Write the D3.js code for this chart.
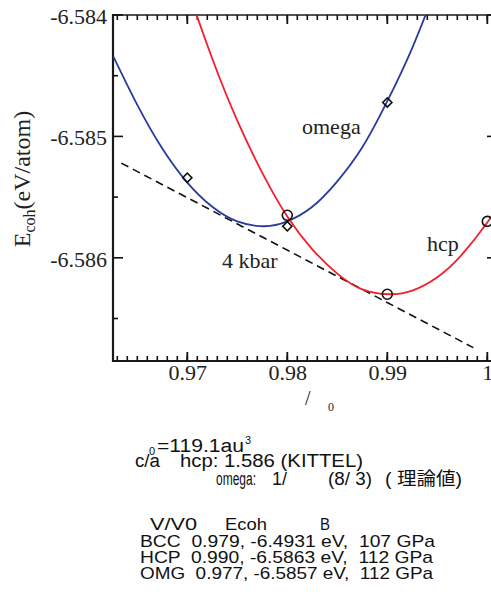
<!DOCTYPE html>
<html>
<head>
<meta charset="utf-8">
<script src="https://cdn.jsdelivr.net/npm/d3@7"></script>
<style>
  body { margin: 0; background: #fff; }
  svg { display: block; }
  .serif { font-family: "Liberation Serif", "Times New Roman", serif; fill: #222; }
  .sans { font-family: "Liberation Sans", Arial, "Noto Sans CJK JP", sans-serif; fill: #111; }
</style>
</head>
<body>
<svg id="chart" width="491" height="596"></svg>
<script>
// Omega phase: fitted E(V) curve samples and computed points
const omegaCurveX = [0.9626, 0.965, 0.9675, 0.97, 0.9725, 0.975, 0.9777, 0.98, 0.9825, 0.985, 0.9875, 0.99, 0.9925, 0.995];
const omegaCurveE = [-6.58434, -6.58474, -6.58510, -6.58538, -6.58558, -6.58570, -6.58574, -6.58570, -6.58558, -6.58537, -6.58509, -6.58471, -6.58427, -6.58375];
const omegaPtsX = [0.97, 0.98, 0.99];
const omegaPtsE = [-6.58534, -6.58574, -6.58472];

// HCP phase: fitted E(V) curve samples and computed points
const hcpCurveX = [0.97, 0.9725, 0.975, 0.9775, 0.98, 0.9825, 0.985, 0.9875, 0.9902, 0.9925, 0.995, 0.9975, 1.0, 1.001];
const hcpCurveE = [-6.58378, -6.58436, -6.58487, -6.58530, -6.58566, -6.58593, -6.58613, -6.58626, -6.58630, -6.58627, -6.58616, -6.58597, -6.58571, -6.58558];
const hcpPtsX = [0.98, 0.99, 1.0];
const hcpPtsE = [-6.58565, -6.58630, -6.58570];

// Common tangent (4 kbar transition pressure)
const tangentX = [0.9634, 0.9986];
const tangentE = [-6.58522, -6.58674];

// Axis ticks
const xTicks = [0.97, 0.98, 0.99, 1.0];
const xTickLabels = ["0.97", "0.98", "0.99", "1"];
const yTicks = [-6.584, -6.585, -6.586];
const yTickLabels = ["-6.584", "-6.585", "-6.586"];

// Summary table
const phases = ["BCC", "HCP", "OMG"];
const volRatio = [0.979, 0.990, 0.977];
const ecohMin = [-6.4931, -6.5863, -6.5857];
const bulkMod = [107, 112, 112];

const svg = d3.select("#chart");
const box = { left: 113, top: 15, right: 497, bottom: 361 };

const xs = d3.scaleLinear().domain([0.96257, 1.00097]).range([box.left, box.right]);
const ys = d3.scaleLinear().domain([-6.58685, -6.584]).range([box.bottom, box.top]);

const xMinor = d3.range(963, 1001).map(v => v / 1000);
const yMinor = [-6.5845, -6.5855, -6.5865];

svg.append("defs").append("clipPath").attr("id", "plotClip")
  .append("rect")
  .attr("x", box.left).attr("y", box.top)
  .attr("width", box.right - box.left).attr("height", box.bottom - box.top);

// tick labels through d3 axes
svg.append("g").attr("transform", `translate(0,${box.bottom})`)
  .call(d3.axisBottom(xs).tickValues(xTicks).tickSize(0).tickPadding(3)
    .tickFormat((d, i) => xTickLabels[i]))
  .call(g => g.select(".domain").remove())
  .call(g => g.selectAll(".tick text").attr("class", "serif")
    .attr("font-size", 22).attr("fill", "#222"));
svg.append("g").attr("transform", `translate(${box.left},0)`)
  .call(d3.axisLeft(ys).tickValues(yTicks).tickSize(0).tickPadding(6)
    .tickFormat((d, i) => yTickLabels[i]))
  .call(g => g.select(".domain").remove())
  .call(g => g.selectAll(".tick text").attr("class", "serif")
    .attr("font-size", 22).attr("fill", "#222").attr("dy", "0.38em"));

// frame
const frame = svg.append("g").attr("stroke", "#1a1a1a").attr("fill", "none");
frame.append("line").attr("x1", box.left).attr("x2", box.left)
  .attr("y1", box.top - 1).attr("y2", box.bottom + 1).attr("stroke-width", 2.2);
frame.append("line").attr("x1", box.left).attr("x2", box.right)
  .attr("y1", box.top).attr("y2", box.top).attr("stroke-width", 1.6);
frame.append("line").attr("x1", box.left).attr("x2", box.right)
  .attr("y1", box.bottom).attr("y2", box.bottom).attr("stroke-width", 2);
frame.append("line").attr("x1", box.right).attr("x2", box.right)
  .attr("y1", box.top).attr("y2", box.bottom).attr("stroke-width", 2);

// inward tick marks drawn as thin filled bars
const tickG = svg.append("g").attr("fill", "#111");
function xTickBars(values, edge, len, w, down) {
  tickG.append("g").selectAll("rect").data(values).join("rect")
    .attr("x", d => xs(d) - w / 2).attr("width", w)
    .attr("y", down ? edge : edge - len).attr("height", len);
}
function yTickBars(values, edge, len, w, right) {
  tickG.append("g").selectAll("rect").data(values).join("rect")
    .attr("y", d => ys(d) - w / 2).attr("height", w)
    .attr("x", right ? edge : edge - len).attr("width", len);
}
xTickBars(xMinor, box.bottom, 5, 1.6, false);
xTickBars(xTicks, box.bottom, 9, 1.8, false);
xTickBars(xMinor, box.top, 5, 1.6, true);
xTickBars(xTicks, box.top, 9, 1.8, true);
yTickBars(yMinor, box.left, 5, 1.6, true);
yTickBars(yTicks, box.left, 10, 1.6, true);
yTickBars(yMinor, box.right, 5, 1.6, false);
yTickBars(yTicks, box.right, 10, 1.6, false);

const plot = svg.append("g").attr("clip-path", "url(#plotClip)");
const line = d3.line().x(d => xs(d[0])).y(d => ys(d[1])).curve(d3.curveNatural);

// common tangent
plot.append("path")
  .datum(d3.zip(tangentX, tangentE))
  .attr("d", d3.line().x(d => xs(d[0])).y(d => ys(d[1])))
  .attr("fill", "none").attr("stroke", "#111")
  .attr("stroke-width", 1.6).attr("stroke-dasharray", "8,5");

// fitted curves
plot.append("path")
  .datum(d3.zip(omegaCurveX, omegaCurveE))
  .attr("d", line).attr("fill", "none")
  .attr("stroke", "#2b3a9e").attr("stroke-width", 1.8);
plot.append("path")
  .datum(d3.zip(hcpCurveX, hcpCurveE))
  .attr("d", line).attr("fill", "none")
  .attr("stroke", "#f0202a").attr("stroke-width", 1.8);

// computed points
svg.append("g").selectAll("path")
  .data(d3.zip(omegaPtsX, omegaPtsE))
  .join("path")
  .attr("d", d3.symbol(d3.symbolSquare, 42))
  .attr("transform", d => `translate(${xs(d[0])},${ys(d[1])}) rotate(45)`)
  .attr("fill", "none").attr("stroke", "#111").attr("stroke-width", 1.6);
svg.append("g").selectAll("circle")
  .data(d3.zip(hcpPtsX, hcpPtsE))
  .join("circle")
  .attr("cx", d => xs(d[0])).attr("cy", d => ys(d[1])).attr("r", 5)
  .attr("fill", "none").attr("stroke", "#111").attr("stroke-width", 1.6);

// curve labels
const tag = (px, py, t) => svg.append("text").attr("class", "serif")
  .attr("x", px).attr("y", py).attr("font-size", 22).text(t);
tag(302, 134, "omega");
tag(427, 251, "hcp");
tag(222, 268, "4 kbar");

// axis titles
const yTitle = svg.append("text").attr("class", "serif")
  .attr("transform", "translate(30,179) rotate(-90)")
  .attr("text-anchor", "middle").attr("font-size", 24);
yTitle.append("tspan").text("E");
yTitle.append("tspan").attr("font-size", 16).attr("dy", 5).text("coh");
yTitle.append("tspan").attr("dy", -5).text("(eV/atom)");

svg.append("text").attr("class", "serif").attr("x", 305).attr("y", 405)
  .attr("font-size", 20).text("/");
svg.append("text").attr("class", "serif").attr("x", 328).attr("y", 411)
  .attr("font-size", 12).text("0");

// notes block
function note(px, py, t, len, size) {
  const el = svg.append("text").attr("class", "sans")
    .attr("x", px).attr("y", py).attr("font-size", size || 17)
    .attr("xml:space", "preserve").text(t);
  if (len) el.attr("textLength", len).attr("lengthAdjust", "spacingAndGlyphs");
  return el;
}
note(149, 455, "0", null, 11);
note(157, 452, "=119.1au", 87, 18);
note(245, 444, "3", null, 11);
note(135, 467, "c/a", 25, 18);
note(180, 467, "hcp: 1.586 (KITTEL)", 183, 18);
note(216, 485, "omega:", 40, 18);
note(272, 485, "1/", 15, 18);
note(328, 485, "(8/ 3)", 44, 18);
note(385, 485, "( 理論値)", 77, 18);

note(150, 530, "V/V0", 47);
note(225, 530, "Ecoh", 42);
note(320, 530, "B", 10);
phases.forEach((p, i) => {
  const row = `${p}  ${volRatio[i].toFixed(3)}, ${ecohMin[i].toFixed(4)} eV,  ${bulkMod[i]} GPa`;
  note(140, 546.5 + i * 16, row, i === 0 ? 295 : 293);
});
</script>
</body>
</html>
